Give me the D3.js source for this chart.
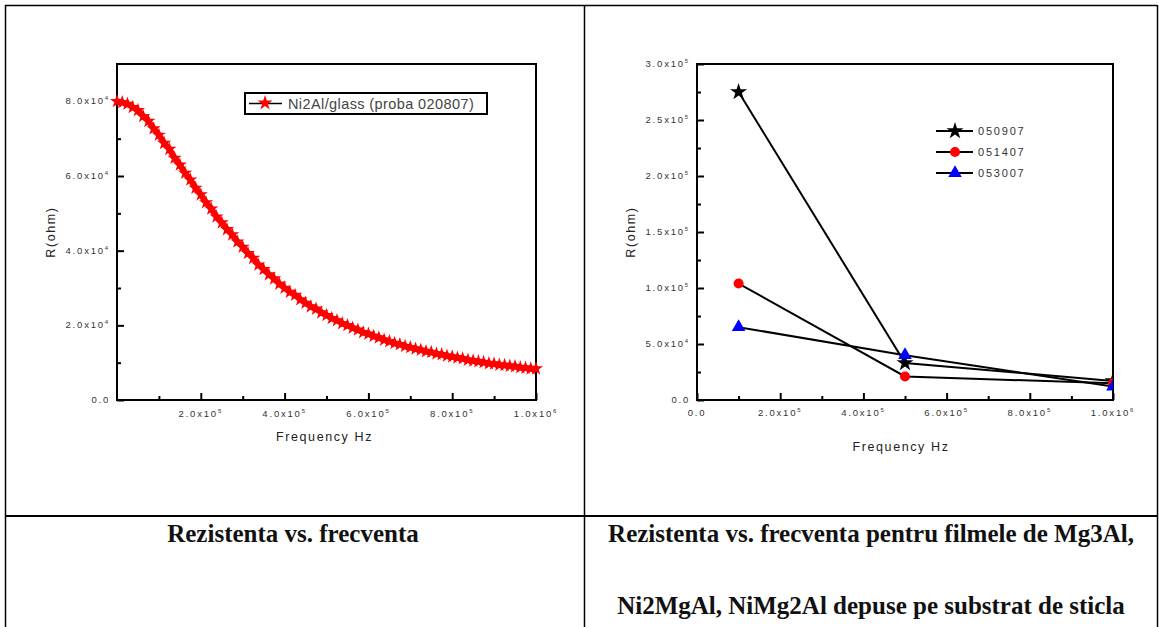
<!DOCTYPE html>
<html>
<head>
<meta charset="utf-8">
<script src="https://cdn.jsdelivr.net/npm/d3@7"></script>
<style>
  body { margin: 0; background: #fff; }
  svg { display: block; }
</style>
</head>
<body>
<svg id="chart" width="1159" height="627"></svg>
<script>
// left chart: Ni2Al/glass, R (x10^4 ohm) vs frequency (Hz)
var leftFreq = [0, 12500, 25000, 37500, 50000, 62500, 75000, 87500, 100000, 112500,
  125000, 137500, 150000, 162500, 175000, 187500, 200000, 212500, 225000, 237500,
  250000, 262500, 275000, 287500, 300000, 312500, 325000, 337500, 350000, 362500,
  375000, 387500, 400000, 412500, 425000, 437500, 450000, 462500, 475000, 487500,
  500000, 512500, 525000, 537500, 550000, 562500, 575000, 587500, 600000, 612500,
  625000, 637500, 650000, 662500, 675000, 687500, 700000, 712500, 725000, 737500,
  750000, 762500, 775000, 787500, 800000, 812500, 825000, 837500, 850000, 862500,
  875000, 887500, 900000, 912500, 925000, 937500, 950000, 962500, 975000, 987500, 1000000];
var leftR = [8.00, 7.97, 7.93, 7.84, 7.76, 7.60, 7.47, 7.27, 7.10, 6.88,
  6.72, 6.48, 6.30, 6.08, 5.90, 5.68, 5.50, 5.29, 5.12, 4.91,
  4.75, 4.57, 4.43, 4.24, 4.10, 3.93, 3.80, 3.62, 3.50, 3.36,
  3.25, 3.11, 3.00, 2.89, 2.81, 2.69, 2.60, 2.50, 2.44, 2.34,
  2.27, 2.19, 2.13, 2.05, 2.00, 1.93, 1.88, 1.81, 1.77, 1.71,
  1.67, 1.61, 1.57, 1.52, 1.49, 1.44, 1.41, 1.37, 1.34, 1.30,
  1.28, 1.24, 1.22, 1.18, 1.16, 1.13, 1.11, 1.07, 1.05, 1.03,
  1.01, 0.98, 0.97, 0.94, 0.93, 0.91, 0.90, 0.87, 0.86, 0.84, 0.84];
var leftYTicks = [0, 2, 4, 6, 8];
var leftYMinor = [1, 3, 5, 7];
var leftYLabels = ["0.0", "2.0x10^4", "4.0x10^4", "6.0x10^4", "8.0x10^4"];
var leftXTicks = [200000, 400000, 600000, 800000, 1000000];
var leftXMinor = [100000, 300000, 500000, 700000, 900000];
var leftXLabels = ["2.0x10^5", "4.0x10^5", "6.0x10^5", "8.0x10^5", "1.0x10^6"];
var leftLegend = "Ni2Al/glass (proba 020807)";

// right chart: three films, R (x10^5 ohm) vs frequency (Hz)
var rightFreq = [100000, 500000, 1000000];
var rightNames = ["050907", "051407", "053007"];
var rightStar = [2.75, 0.33, 0.17];
var rightCircle = [1.04, 0.21, 0.15];
var rightTriangle = [0.65, 0.40, 0.12];
var rightYTicks = [0, 0.5, 1.0, 1.5, 2.0, 2.5, 3.0];
var rightYMinor = [0.25, 0.75, 1.25, 1.75, 2.25, 2.75];
var rightYLabels = ["0.0", "5.0x10^4", "1.0x10^5", "1.5x10^5", "2.0x10^5", "2.5x10^5", "3.0x10^5"];
var rightXTicks = [0, 200000, 400000, 600000, 800000, 1000000];
var rightXMinor = [100000, 300000, 500000, 700000, 900000];
var rightXLabels = ["0.0", "2.0x10^5", "4.0x10^5", "6.0x10^5", "8.0x10^5", "1.0x10^6"];

var captionLeft = ["Rezistenta vs. frecventa"];
var captionRight = ["Rezistenta vs. frecventa pentru filmele de Mg3Al,",
  "Ni2MgAl, NiMg2Al depuse pe substrat de sticla"];

var svg = d3.select("#chart");

// table grid
var table = svg.append("g").attr("stroke", "#000").attr("stroke-width", 1.5).attr("fill", "none");
table.append("line").attr("x1", 5).attr("x2", 1157).attr("y1", 5.5).attr("y2", 5.5);
table.append("line").attr("x1", 5.5).attr("x2", 5.5).attr("y1", 5).attr("y2", 627);
table.append("line").attr("x1", 584.5).attr("x2", 584.5).attr("y1", 5).attr("y2", 627);
table.append("line").attr("x1", 1157.5).attr("x2", 1157.5).attr("y1", 5).attr("y2", 627);
table.append("line").attr("x1", 5).attr("x2", 1157).attr("y1", 516).attr("y2", 516).attr("stroke-width", 2);

function tickLabel(sel, label) {
  var parts = label.split("^");
  sel.text(parts[0]);
  if (parts.length > 1) {
    sel.append("tspan").attr("dy", -4).attr("font-size", 6).text(parts[1]);
  }
}

function frame(g, x, y, o) {
  var w = x.range()[1] - x.range()[0];
  var h = y.range()[0] - y.range()[1];
  var gx = g.append("g").attr("transform", "translate(0," + y.range()[0] + ")");
  gx.call(d3.axisBottom(x).tickValues(o.xTicks).tickSize(-7).tickFormat(""));
  gx.append("g").call(d3.axisBottom(x).tickValues(o.xMinor).tickSize(-4).tickFormat(""));
  var gy = g.append("g").attr("transform", "translate(" + x.range()[0] + ",0)");
  gy.call(d3.axisLeft(y).tickValues(o.yTicks).tickSize(-7).tickFormat(""));
  gy.append("g").call(d3.axisLeft(y).tickValues(o.yMinor).tickSize(-4).tickFormat(""));
  g.selectAll(".domain").remove();
  g.selectAll(".tick line").attr("stroke", "#000").attr("stroke-width", 2);

  g.append("rect")
    .attr("x", x.range()[0]).attr("y", y.range()[1])
    .attr("width", w).attr("height", h)
    .attr("fill", "none").attr("stroke", "#000").attr("stroke-width", 2);

  var lab = g.append("g").attr("font-family", "Arial, 'Liberation Sans', sans-serif")
    .attr("font-size", 9.5).attr("fill", "#333").attr("letter-spacing", 1.8);
  o.yTicks.forEach(function(v, i) {
    lab.append("text").attr("x", x.range()[0] - 7).attr("y", y(v) + 3)
      .attr("text-anchor", "end").call(tickLabel, o.yLabels[i]);
  });
  o.xTicks.forEach(function(v, i) {
    lab.append("text").attr("x", x(v)).attr("y", y.range()[0] + o.xLabelDy)
      .attr("text-anchor", "middle").call(tickLabel, o.xLabels[i]);
  });

  var ttl = g.append("g").attr("font-family", "Arial, 'Liberation Sans', sans-serif")
    .attr("font-size", 12.5).attr("fill", "#222").attr("letter-spacing", 1.6);
  ttl.append("text").attr("text-anchor", "middle")
    .attr("transform", "translate(" + o.yTitleX + "," + (y.range()[1] + h / 2 + o.yTitleDy) + ") rotate(-90)")
    .text("R(ohm)");
  ttl.append("text").attr("text-anchor", "middle")
    .attr("x", x.range()[0] + w / 2 + o.xTitleDx).attr("y", o.xTitleY)
    .text("Frequency Hz");
}

// ---- left chart
var xL = d3.scaleLinear().domain([0, 1000000]).range([117, 536]);
var yL = d3.scaleLinear().domain([0, 9]).range([400, 64]);
var gL = svg.append("g");
frame(gL, xL, yL, {
  xTicks: leftXTicks, xMinor: leftXMinor, xLabels: leftXLabels,
  yTicks: leftYTicks, yMinor: leftYMinor, yLabels: leftYLabels,
  xLabelDy: 17, yTitleX: 55, yTitleDy: 0, xTitleY: 441, xTitleDx: -2
});

var leftPts = leftFreq.map(function(f, i) { return [f, leftR[i]]; });
var star = d3.symbol().type(d3.symbolStar);
gL.append("path").datum(leftPts)
  .attr("d", d3.line().x(function(d) { return xL(d[0]); }).y(function(d) { return yL(d[1]); }))
  .attr("fill", "none").attr("stroke", "#ff0000").attr("stroke-width", 6);
gL.append("g").selectAll("path")
  .data(leftPts)
  .enter().append("path")
  .attr("transform", function(d) { return "translate(" + xL(d[0]) + "," + yL(d[1]) + ")"; })
  .attr("d", star.size(62))
  .attr("fill", "#ff0000");

var legL = gL.append("g");
legL.append("rect").attr("x", 245).attr("y", 93).attr("width", 242).attr("height", 21)
  .attr("fill", "#fff").attr("stroke", "#000").attr("stroke-width", 2);
legL.append("line").attr("x1", 249).attr("x2", 282).attr("y1", 103.5).attr("y2", 103.5)
  .attr("stroke", "#000").attr("stroke-width", 1.5);
legL.append("path").attr("transform", "translate(265,103)").attr("d", star.size(70)).attr("fill", "#ff0000");
legL.append("text").attr("x", 288).attr("y", 108.5)
  .attr("font-family", "Arial, 'Liberation Sans', sans-serif").attr("font-size", 14.5)
  .attr("fill", "#444").attr("letter-spacing", 0.4)
  .text(leftLegend);

// ---- right chart
var xR = d3.scaleLinear().domain([0, 1000000]).range([697, 1113]);
var yR = d3.scaleLinear().domain([0, 3.0]).range([400, 64]);
var gR = svg.append("g");
frame(gR, xR, yR, {
  xTicks: rightXTicks, xMinor: rightXMinor, xLabels: rightXLabels,
  yTicks: rightYTicks, yMinor: rightYMinor, yLabels: rightYLabels,
  xLabelDy: 16, yTitleX: 635, yTitleDy: 0, xTitleY: 451, xTitleDx: -4
});

var series = [
  {name: rightNames[0], values: rightStar, type: d3.symbolStar, color: "#000", size: 90},
  {name: rightNames[1], values: rightCircle, type: d3.symbolCircle, color: "#ff0000", size: 80},
  {name: rightNames[2], values: rightTriangle, type: d3.symbolTriangle, color: "#0000ff", size: 80}
];

svg.append("defs").append("clipPath").attr("id", "clipR")
  .append("rect").attr("x", 697).attr("y", 64).attr("width", 416).attr("height", 336);

var plotR = gR.append("g").attr("clip-path", "url(#clipR)");
var line = d3.line()
  .x(function(d) { return xR(d[0]); })
  .y(function(d) { return yR(d[1]); });

series.forEach(function(s) {
  var pts = rightFreq.map(function(f, i) { return [f, s.values[i]]; });
  plotR.append("path").datum(pts).attr("d", line)
    .attr("fill", "none").attr("stroke", "#000").attr("stroke-width", 2);
});
series.forEach(function(s) {
  var pts = rightFreq.map(function(f, i) { return [f, s.values[i]]; });
  plotR.append("g").selectAll("path").data(pts).enter().append("path")
    .attr("transform", function(d) { return "translate(" + xR(d[0]) + "," + yR(d[1]) + ")"; })
    .attr("d", d3.symbol().type(s.type).size(s.size))
    .attr("fill", s.color);
});

var legR = gR.append("g");
series.forEach(function(s, i) {
  var ly = 131 + i * 21;
  legR.append("line").attr("x1", 936).attr("x2", 973).attr("y1", ly).attr("y2", ly)
    .attr("stroke", "#000").attr("stroke-width", 2);
  legR.append("path").attr("transform", "translate(955," + ly + ")")
    .attr("d", d3.symbol().type(s.type).size(s.size)).attr("fill", s.color);
  legR.append("text").attr("x", 978).attr("y", ly + 4)
    .attr("font-family", "Arial, 'Liberation Sans', sans-serif").attr("font-size", 11)
    .attr("fill", "#333").attr("letter-spacing", 1.8)
    .text(s.name);
});

// ---- captions
var cap = svg.append("g").attr("font-family", "'Liberation Serif', 'Times New Roman', serif")
  .attr("font-weight", "bold").attr("font-size", 25).attr("fill", "#111").attr("text-anchor", "middle");
captionLeft.forEach(function(t, i) {
  cap.append("text").attr("x", 293).attr("y", 542 + i * 72).text(t);
});
captionRight.forEach(function(t, i) {
  cap.append("text").attr("x", 871).attr("y", 542 + i * 72).text(t);
});
</script>
</body>
</html>
